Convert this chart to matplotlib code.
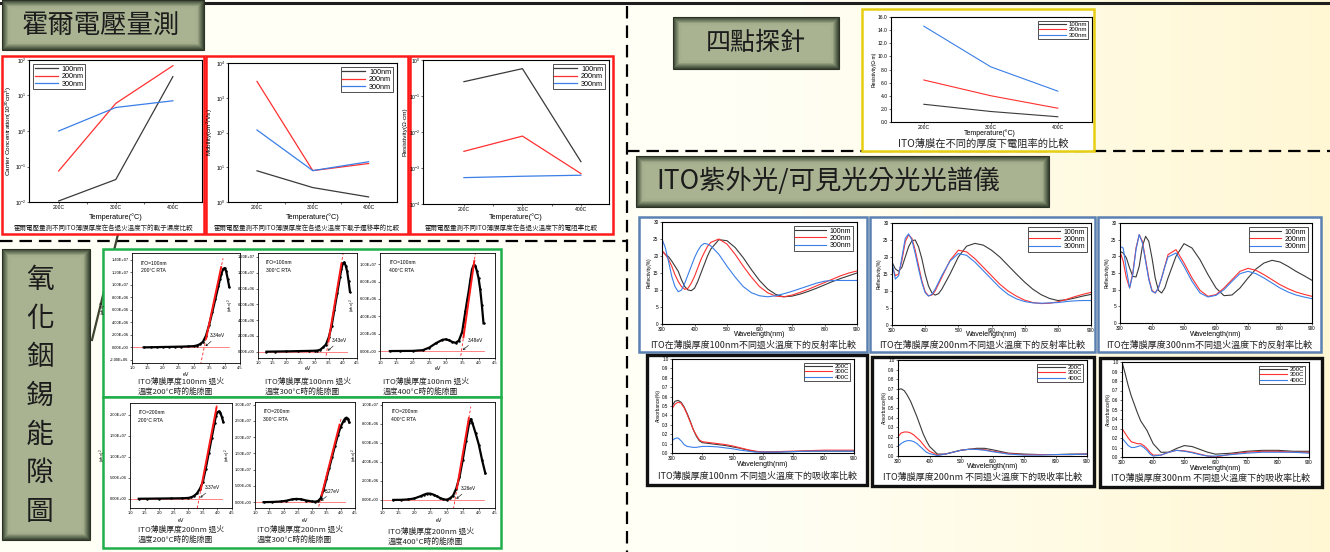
import numpy as np
import matplotlib
matplotlib.use("Agg")
import matplotlib.pyplot as plt
from matplotlib.colors import LinearSegmentedColormap
from matplotlib.patches import Rectangle
from matplotlib.ticker import FuncFormatter, NullLocator

plt.rcParams['font.family'] = ['Liberation Sans', 'Noto Sans CJK TC', 'DejaVu Sans']
plt.rcParams['mathtext.default'] = 'regular'
plt.rcParams['lines.scale_dashes'] = False

W, H = 1330, 552
CJK = ['Noto Sans CJK TC', 'DejaVu Sans']

temps = ['200C', '300C', '400C']
thick = ['100nm', '200nm', '300nm']
anneal = ['200C', '300C', '400C']

# Hall measurement, rows = 100nm / 200nm / 300nm
carrier = [[0.0107, 0.043, 34], [0.075, 6.0, 69], [1.0, 4.6, 7.1]]
mobility = [[7.9, 2.6, 1.4], [2950, 8.0, 12.8], [118, 8.0, 14.4]]
resist_hall = [[0.25, 0.575, 0.0015], [0.0029, 0.0077, 0.0007], [0.00054, 0.00059, 0.00063]]

# four point probe
resist_4p = [[2.7, 1.6, 0.8], [6.4, 4.0, 2.1], [14.6, 8.4, 4.7]]

# reflectance (%)
wl = [300, 310, 320, 330, 340, 350, 360, 370, 380, 390, 400, 410, 420, 430, 440, 450,
      475, 500, 525, 550, 575, 600, 625, 650, 675, 700, 725, 750, 775, 800, 825, 850, 875, 900]
refl_100 = [
    [21.5, 20.5, 19.8, 18.5, 17, 15.5, 13, 11, 10, 9.8, 10.5, 12.5, 15, 17.5, 20, 22,
     24.8, 24.5, 22.5, 19.5, 16, 12.8, 10.3, 8.7, 8, 8.2, 8.8, 9.6, 10.5, 11.5, 12.5, 13.4, 14.2, 15],
    [21.5, 20.5, 19, 17, 14.5, 12.5, 11, 10.2, 10.5, 12, 14, 16.5, 19, 21, 22.8, 24,
     25, 23.5, 20.5, 17, 13.8, 11, 9.2, 8.2, 8, 8.5, 9.3, 10.2, 11.2, 12.2, 13.2, 14.2, 15, 15.6],
    [25, 22.5, 18.5, 14, 11, 9.5, 10, 12, 14.5, 17, 19.5, 21.5, 23, 23.7, 23.5, 23,
     20.5, 17, 13.8, 11, 9.2, 8.3, 8, 8.3, 8.9, 9.6, 10.4, 11.2, 12, 12.6, 12.8, 12.8, 12.8, 12.8],
]
refl_200 = [
    [18.5, 16.5, 15.8, 17, 20, 23, 24.8, 25, 23, 19.5, 15, 11.5, 9.5, 8.8, 9.2, 10.5,
     15, 20, 23.2, 24, 23.5, 22, 20, 17.5, 15, 12.6, 10.5, 8.9, 7.8, 7.2, 7.4, 7.9, 8.5, 9],
    [17.5, 14.5, 15, 19, 24.5, 26.5, 25.5, 22, 17.5, 13, 9.8, 8.6, 8.8, 10, 12, 14,
     19, 22, 21.5, 19.5, 17, 14.5, 12, 10, 8.5, 7.3, 6.6, 6.3, 6.4, 6.8, 7.5, 8.3, 9, 9.6],
    [18.5, 13.5, 14.5, 20, 25.5, 26.8, 25, 21, 16.5, 12.5, 9.5, 8.5, 9, 10.5, 12.5, 14.5,
     18.8, 21, 20.5, 18.5, 16, 13.5, 11, 9, 7.7, 6.9, 6.5, 6.4, 6.5, 6.6, 6.9, 7.1, 7.2, 7.2],
]
refl_300 = [
    [21.5, 21, 19.5, 16.5, 14, 13.8, 17, 23, 26, 24.5, 19.5, 13.5, 9.8, 9, 10.5, 13.5,
     20, 23.8, 22.5, 19, 14.5, 10.5, 8.2, 8.4, 10.5, 13.5, 16.2, 18, 18.8, 18.3, 17, 15.5, 14.2, 12.8],
    [21.5, 18.5, 13.5, 10.5, 15, 22.5, 26.5, 24.5, 19, 13.5, 9.8, 9, 10.5, 13.5, 17, 20.5,
     22, 18, 13.5, 9.8, 8, 8.5, 10.5, 13, 15.5, 16.4, 15.8, 14.5, 13, 11.5, 10.3, 9.3, 8.6, 8],
    [23, 22.5, 16, 10.5, 14.5, 22, 26.5, 24, 18.5, 13, 9.5, 9, 10.5, 13.5, 16.8, 19.8,
     21, 17, 12.5, 9, 7.8, 8.3, 10, 12.5, 14.8, 15.5, 14.8, 13.5, 12, 10.5, 9.3, 8.4, 7.8, 7.3],
]

# absorbance
wl_abs = [300, 310, 320, 330, 340, 350, 360, 370, 380, 390, 400, 425, 450, 475, 500,
          525, 550, 575, 600, 650, 700, 750, 800, 850, 900]
abs_100 = [
    [0.50, 0.55, 0.56, 0.54, 0.49, 0.42, 0.34, 0.25, 0.18, 0.13, 0.11, 0.10, 0.09, 0.08, 0.065,
     0.05, 0.03, 0.015, 0.01, 0.01, 0.015, 0.02, 0.02, 0.02, 0.02],
    [0.47, 0.52, 0.54, 0.53, 0.48, 0.41, 0.33, 0.25, 0.19, 0.14, 0.12, 0.11, 0.10, 0.09, 0.075,
     0.055, 0.035, 0.02, 0.01, 0.015, 0.02, 0.025, 0.03, 0.03, 0.03],
    [0.13, 0.155, 0.16, 0.13, 0.09, 0.07, 0.065, 0.06, 0.06, 0.065, 0.07, 0.07, 0.065, 0.055, 0.045,
     0.03, 0.02, 0.01, 0.01, 0.01, 0.015, 0.02, 0.02, 0.02, 0.02],
]
abs_200 = [
    [0.69, 0.70, 0.68, 0.63, 0.57, 0.49, 0.41, 0.32, 0.23, 0.16, 0.10, 0.02, 0.02, 0.04, 0.06,
     0.07, 0.08, 0.08, 0.065, 0.03, 0.02, 0.015, 0.015, 0.02, 0.02],
    [0.20, 0.24, 0.25, 0.25, 0.24, 0.22, 0.19, 0.16, 0.12, 0.08, 0.05, 0.01, 0.02, 0.04, 0.06,
     0.07, 0.07, 0.065, 0.05, 0.025, 0.015, 0.015, 0.015, 0.015, 0.02],
    [0.10, 0.13, 0.15, 0.16, 0.16, 0.15, 0.13, 0.10, 0.07, 0.04, 0.025, 0.005, 0.02, 0.04, 0.06,
     0.07, 0.068, 0.06, 0.045, 0.02, 0.01, 0.01, 0.015, 0.015, 0.02],
]
abs_300 = [
    [1.0, 0.88, 0.75, 0.64, 0.55, 0.46, 0.38, 0.33, 0.28, 0.21, 0.14, 0.05, 0.05, 0.09, 0.12,
     0.11, 0.08, 0.05, 0.03, 0.04, 0.06, 0.07, 0.07, 0.06, 0.06],
    [0.30, 0.25, 0.20, 0.16, 0.15, 0.14, 0.14, 0.12, 0.09, 0.05, 0.02, 0.02, 0.05, 0.07, 0.065,
     0.05, 0.03, 0.01, 0.0, 0.03, 0.05, 0.06, 0.06, 0.05, 0.05],
    [0.20, 0.16, 0.12, 0.10, 0.10, 0.11, 0.12, 0.10, 0.07, 0.03, 0.01, 0.02, 0.05, 0.07, 0.06,
     0.045, 0.025, 0.01, 0.01, 0.025, 0.04, 0.05, 0.05, 0.05, 0.04],
]

# band gap plots, (alpha h nu)^2 in units of 1e6
gap_ev = [
    [1.38, 1.6, 1.8, 2.0, 2.2, 2.4, 2.6, 2.8, 3.0, 3.1, 3.2, 3.3, 3.4, 3.5, 3.6, 3.7, 3.8, 3.85,
     3.9, 3.95, 4.0, 4.05, 4.1, 4.15],
    [1.3, 1.6, 2.0, 2.4, 2.8, 3.0, 3.1, 3.2, 3.3, 3.4, 3.5, 3.6, 3.7, 3.8, 3.9, 3.95, 4.0, 4.05,
     4.1, 4.15, 4.2, 4.25],
    [1.3, 1.6, 2.0, 2.3, 2.5, 2.7, 2.9, 3.0, 3.1, 3.2, 3.3, 3.4, 3.5, 3.55, 3.6, 3.65, 3.7, 3.75,
     3.8, 3.85, 3.9, 3.95, 4.0, 4.05, 4.1, 4.15],
    [1.3, 1.6, 2.0, 2.4, 2.8, 3.0, 3.1, 3.2, 3.3, 3.4, 3.5, 3.6, 3.7, 3.8, 3.9, 3.95, 4.0, 4.05,
     4.1, 4.15, 4.2],
    [1.3, 1.6, 1.9, 2.1, 2.3, 2.45, 2.6, 2.8, 3.0, 3.1, 3.2, 3.3, 3.4, 3.5, 3.6, 3.7, 3.8, 3.9,
     4.0, 4.1, 4.15, 4.2, 4.25, 4.3],
    [1.35, 1.6, 1.8, 2.0, 2.2, 2.3, 2.4, 2.5, 2.6, 2.7, 2.8, 2.9, 3.0, 3.1, 3.2, 3.3, 3.4, 3.5,
     3.6, 3.7, 3.75, 3.8, 3.9, 4.0, 4.1, 4.2],
]
gap_val = [
    [0.0, 0.02, 0.04, 0.06, 0.08, 0.1, 0.12, 0.15, 0.2, 0.3, 0.5, 0.9, 1.9, 3.6, 5.6, 7.7, 9.8,
     10.9, 11.8, 12.5, 12.7, 12.2, 11.0, 9.7],
    [0.0, 0.02, 0.04, 0.07, 0.1, 0.12, 0.15, 0.25, 0.55, 0.9, 1.8, 3.2, 5.3, 7.4, 9.5, 10.5,
     11.2, 11.3, 10.9, 10.2, 9.0, 7.6],
    [0.0, 0.01, 0.02, 0.1, 0.4, 0.9, 1.3, 1.35, 1.25, 1.05, 0.95, 1.2, 2.2, 3.4, 4.6, 5.8, 6.9,
     8.2, 9.4, 9.9, 9.85, 9.2, 8.4, 7.1, 5.3, 3.2],
    [0.0, 0.02, 0.05, 0.08, 0.12, 0.2, 0.35, 0.7, 1.3, 2.4, 4.0, 7.2, 10.8, 14.4, 18.0, 19.8,
     20.6, 20.8, 20.5, 19.5, 18.3],
    [0.0, 0.05, 0.2, 0.45, 0.85, 1.0, 0.9, 0.5, 0.2, 0.15, 0.3, 1.2, 3.8, 7.2, 10.6, 14.0, 17.4,
     20.6, 23.2, 25.0, 25.7, 26.0, 25.7, 24.5],
    [0.0, 0.01, 0.05, 0.15, 0.4, 0.55, 0.67, 0.66, 0.55, 0.38, 0.2, 0.07, 0.02, 0.15, 0.45, 1.2,
     2.4, 4.2, 6.2, 8.1, 8.5, 8.1, 7.0, 5.8, 4.2, 2.8],
]
gap_eg = [3.34, 3.43, 3.48, 3.37, 3.27, 3.26]
gap_top = [(3.91, 13.3), (3.97, 11.6), (3.89, 10.9), (3.99, 22.5), (3.98, 24.5), (3.71, 9.0)]
gap_film = ['100nm', '100nm', '100nm', '200nm', '200nm', '200nm']
gap_temp = ['200', '300', '400', '200', '300', '400']

# ---------------- layout helpers ----------------
C3 = ['#3a3a3a', '#ff3030', '#3a7ee8']


def rect(x0, y0, x1, y1):
    return [x0 / W, 1 - y1 / H, (x1 - x0) / W, (y1 - y0) / H]


fig = plt.figure(figsize=(13.3, 5.52), dpi=100)
bg = fig.add_axes([0, 0, 1, 1], zorder=-5)
bg.axis('off')

# cream background, more yellow to the right
bg_cmap = LinearSegmentedColormap.from_list('bgc', ['#fffff6', '#fff7d4'])
grad = np.clip((np.linspace(0, 1, 400) - 0.55) / 0.45, 0, 1)[None, :]
bg.imshow(grad, extent=(0, W, H, 0), cmap=bg_cmap, aspect='auto', zorder=0)

olive = LinearSegmentedColormap.from_list('olive', ['#3b4633', '#6f7b60', '#a4ae8d', '#a9b392'])


def title_box(x0, y0, x1, y1):
    w, h = int(x1 - x0), int(y1 - y0)
    yy, xx = np.mgrid[0:h, 0:w]
    d = np.minimum(np.minimum(xx, w - 1 - xx), np.minimum(yy, h - 1 - yy)).astype(float)
    bg.imshow(np.clip(d / 9.0, 0, 1), extent=(x0, x1, y1, y0), cmap=olive, vmin=0, vmax=1,
              aspect='auto', interpolation='bilinear', zorder=3)
    bg.add_patch(Rectangle((x0, y0), x1 - x0, y1 - y0, fill=False, ec='#2c3326', lw=0.8, zorder=4))


def frame(x0, y0, x1, y1, color, lw):
    bg.add_patch(Rectangle((x0, y0), x1 - x0, y1 - y0, fc='white', ec=color, lw=lw, zorder=2))


# lines that split the poster
bg.plot([0, W], [3, 3], color='#1e1e1e', lw=2.2, zorder=1)
bg.plot([627, 627], [6, H], color='k', lw=1.6, dashes=(9, 5), zorder=1)
bg.plot([0, 627], [241, 241], color='k', lw=1.6, dashes=(9, 5), zorder=1)
bg.plot([627, W], [151, 151], color='k', lw=1.6, dashes=(9, 5), zorder=1)
bg.plot([121, 92], [222, 340], color='#3d4530', lw=1.6, zorder=1)

# section titles
title_box(2, 0, 204, 50)
bg.text(101, 25, '霍爾電壓量測', fontsize=19, ha='center', va='center', family=CJK, color='#1c1c1c', zorder=5)
title_box(673, 17, 839, 69)
bg.text(756, 43, '四點探針', fontsize=18, ha='center', va='center', family=CJK, color='#1c1c1c', zorder=5)
title_box(636, 156, 1049, 207)
bg.text(656, 181, 'ITO紫外光/可見光分光光譜儀', fontsize=19, ha='left', va='center', family=CJK,
        color='#1c1c1c', zorder=5)
title_box(2, 249, 90, 540)
bg.text(40, 396, '\n'.join('氧化銦錫能隙圖'), fontsize=20, linespacing=1.37, ha='center', va='center',
        family=CJK, color='#1c1c1c', zorder=5)


def finish_legend(ax, loc, fs, hl=3.2):
    leg = ax.legend(loc=loc, fontsize=fs, frameon=True, fancybox=False, edgecolor='k', handlelength=hl,
                    borderpad=0.2, labelspacing=0.05, handletextpad=0.5, borderaxespad=0.6)
    leg.get_frame().set_linewidth(0.6)


def tiny_ticks(ax, size):
    ax.tick_params(labelsize=size, direction='out', length=1.5, width=0.4, pad=1)
    for sp in ax.spines.values():
        sp.set_linewidth(0.8)


# ---------------- Hall panels ----------------
hall_frames = [(2, 56, 204, 234), (206, 56, 408, 234), (410, 56, 613, 234)]
hall_boxes = [(29, 60, 202, 202), (228, 63, 397, 202), (423, 60, 609, 204)]
hall_xlim = [(0.48, 3.51), (0.48, 3.51), (0.3, 3.48)]
hall_ylim = [(1e-2, 1e2), (1e0, 1e4), (1e-4, 1e0)]
hall_ylabel = ['Carrier Concentration(10$^{20}$cm$^{3}$)', 'Mobility(cm$^{2}$/Vs)', 'Resistivity(Ω·cm)']
hall_legloc = ['upper left', 'upper right', 'upper right']
hall_caption = ['霍爾電壓量測不同ITO薄膜厚度在各退火溫度下的載子濃度比較',
                '霍爾電壓量測不同ITO薄膜厚度在各退火溫度下載子遷移率的比較',
                '霍爾電壓量測不同ITO薄膜厚度在各退火溫度下的電阻率比較']
x_pos = [1, 2, 3]
decade = FuncFormatter(lambda v, p: '$10^{%d}$' % int(round(np.log10(v))))

for i, data in enumerate([carrier, mobility, resist_hall]):
    frame(*hall_frames[i], '#ff1a1a', 1.8)
    ax = fig.add_axes(rect(*hall_boxes[i]))
    for vals, name, col in zip(data, thick, C3):
        ax.plot(x_pos, vals, color=col, lw=0.9, label=name)
    ax.set_yscale('log')
    ax.set_ylim(*hall_ylim[i])
    ax.set_xlim(*hall_xlim[i])
    ax.yaxis.set_major_formatter(decade)
    ax.yaxis.set_minor_locator(NullLocator())
    ax.set_xticks(x_pos, temps)
    ax.set_xticks([1.5, 2.5], minor=True)
    tiny_ticks(ax, 3.6)
    ax.tick_params(axis='y', pad=0.5)
    ax.tick_params(which='minor', length=1.5, width=0.4)
    ax.set_ylabel(hall_ylabel[i], fontsize=4.6, labelpad=0.5)
    finish_legend(ax, hall_legloc[i], 5.2)
    cx = (hall_boxes[i][0] + hall_boxes[i][2]) / 2
    bg.text(cx, 217, 'Temperature(°C)', fontsize=5.2, ha='center', va='center')
    bg.text((hall_frames[i][0] + hall_frames[i][2]) / 2, 228, hall_caption[i], fontsize=4.7,
            ha='center', va='center', family=CJK, color='#222222')

# ---------------- four point probe ----------------
frame(862, 9, 1094, 151, '#e6cf12', 1.8)
ax = fig.add_axes(rect(891, 17, 1092, 122))
for vals, name, col in zip(resist_4p, thick, C3):
    ax.plot(x_pos, vals, color=col, lw=0.8, label=name)
ax.set_xlim(0.51, 3.51)
ax.set_ylim(0, 16)
ax.set_yticks(np.arange(0, 16.1, 2))
ax.yaxis.set_major_formatter(FuncFormatter(lambda v, p: f'{v:.1f}'))
ax.set_xticks(x_pos, temps)
tiny_ticks(ax, 3.6)
ax.set_ylabel('Resistivity(Ω·m)', fontsize=3.6, labelpad=1)
finish_legend(ax, 'upper right', 4.3, hl=4.5)
bg.text(990, 133, 'Temperature(°C)', fontsize=5, ha='center', va='center')
bg.text(983, 144, 'ITO薄膜在不同的厚度下電阻率的比較', fontsize=7.4, ha='center', va='center',
        family=CJK, color='#222222')

# ---------------- reflectance ----------------
refl_frames = [(639, 217, 867, 352), (870, 217, 1095, 352), (1098, 217, 1321, 352)]
refl_boxes = [(662, 222, 857, 324), (892, 223, 1091, 325), (1120, 223, 1312, 323)]
for i, data in enumerate([refl_100, refl_200, refl_300]):
    frame(*refl_frames[i], '#5b80b2', 1.8)
    ax = fig.add_axes(rect(*refl_boxes[i]))
    for vals, name, col in zip(data, thick, C3):
        ax.plot(wl, vals, color=col, lw=0.8, label=name)
    ax.set_xlim(300, 900)
    ax.set_xticks(range(300, 901, 100))
    ax.set_ylim(0, 30)
    ax.set_yticks(range(0, 31, 5))
    tiny_ticks(ax, 3.4)
    ax.set_ylabel('Reflectivity(%)', fontsize=3.4, labelpad=1)
    finish_legend(ax, 'upper right', 5, hl=4.5)
    cx = (refl_boxes[i][0] + refl_boxes[i][2]) / 2
    bg.text(cx, 335, 'Wavelength(nm)', fontsize=5, ha='center', va='center')
    bg.text((refl_frames[i][0] + refl_frames[i][2]) / 2, 345,
            f'ITO在薄膜厚度{thick[i]}不同退火溫度下的反射率比較', fontsize=6.5, ha='center',
            va='center', family=CJK, color='#222222')

# ---------------- absorbance ----------------
abs_frames = [(647, 355, 867, 485), (872, 357, 1094, 486), (1100, 358, 1322, 487)]
abs_boxes = [(672, 359, 854, 453), (898, 360, 1087, 456), (1122, 362, 1309, 457)]
for i, data in enumerate([abs_100, abs_200, abs_300]):
    frame(*abs_frames[i], '#111111', 2.4)
    ax = fig.add_axes(rect(*abs_boxes[i]))
    for vals, name, col in zip(data, anneal, C3):
        ax.plot(wl_abs, vals, color=col, lw=0.8, label=name)
    ax.set_xlim(300, 900)
    ax.set_xticks(range(300, 901, 100))
    ax.set_ylim(0, 1.0)
    ax.set_yticks(np.arange(0, 1.01, 0.1))
    ax.yaxis.set_major_formatter(FuncFormatter(lambda v, p: f'{v:.1f}'))
    tiny_ticks(ax, 3.3)
    ax.set_ylabel('Absorbance(%)', fontsize=3.4, labelpad=1)
    finish_legend(ax, 'upper right', 4.3, hl=4.5)
    cx = (abs_boxes[i][0] + abs_boxes[i][2]) / 2
    bg.text(cx, abs_boxes[i][3] + 11, 'Wavelength(nm)', fontsize=5, ha='center', va='center')
    bg.text((abs_frames[i][0] + abs_frames[i][2]) / 2, abs_frames[i][3] - 9,
            f'ITO薄膜厚度{thick[i]} 不同退火溫度下的吸收率比較', fontsize=6.5, ha='center', va='center',
            family=CJK, color='#222222')

# ---------------- band gap ----------------
frame(103, 249, 501, 397, '#1fae4a', 1.8)
frame(103, 397, 501, 548, '#1fae4a', 1.8)
gap_boxes = [(132, 253, 240, 363), (258, 253, 357, 358), (380, 253, 495, 358),
             (130, 403, 232, 508), (255, 402, 355, 508), (382, 402, 495, 508)]
gap_ylim = [(-2.5, 15.1), (-0.8, 12.5), (-0.8, 11.3), (-2.2, 22.8), (-1.8, 30.8), (-0.85, 10.3)]
gap_yticks = [np.arange(-2, 15, 2), np.arange(0, 13, 2), np.arange(0, 11, 2),
              np.arange(0, 21, 5), np.arange(0, 31, 5), np.arange(0, 11, 2)]
gap_caption_xy = [(138, 382), (265, 382), (383, 382), (138, 530), (257, 530), (388, 532)]
sci = FuncFormatter(lambda v, p: f'{v * 1e6:.2E}')

for i in range(6):
    ax = fig.add_axes(rect(*gap_boxes[i]))
    ev, val, eg = gap_ev[i], gap_val[i], gap_eg[i]
    tx, ty = gap_top[i]
    slope = ty / (tx - eg)
    ax.plot([1.0, 4.15], [0, 0], color='#ff7070', lw=0.6)
    xd = np.array([eg - 0.25, tx + 0.04])
    ax.plot(xd, slope * (xd - eg), color='#ff2020', lw=0.6, dashes=(2, 1.5))
    ax.plot(ev, val, color='black', lw=1.6, marker='o', ms=1.8, mew=0)
    xs = np.array([eg + 0.06, tx - 0.02])
    ax.plot(xs, slope * (xs - eg), color='#ff1a1a', lw=1.4)
    ax.set_xlim(1.0, 4.5)
    ax.set_xticks(np.arange(1.0, 4.51, 0.5))
    ax.xaxis.set_major_formatter(FuncFormatter(lambda v, p: f'{v:.1f}'))
    ax.set_ylim(*gap_ylim[i])
    ax.set_yticks(gap_yticks[i])
    ax.yaxis.set_major_formatter(sci)
    tiny_ticks(ax, 2.9)
    for sp in ax.spines.values():
        sp.set_linewidth(0.6)
    ax.set_ylabel('(αhν)$^{2}$', fontsize=3.2, labelpad=1)
    span = gap_ylim[i][1] - gap_ylim[i][0]
    ax.annotate(f'{eg:.2f}eV', xy=(eg + 0.04, span * 0.01), xytext=(eg + 0.18, span * 0.09),
                fontsize=3.4, arrowprops=dict(arrowstyle='->', lw=0.4, shrinkA=0, shrinkB=0))
    ax.text(0.08, 0.93, f'ITO={gap_film[i]}\n{gap_temp[i]}°C RTA', transform=ax.transAxes,
            fontsize=3.6, va='top', linespacing=1.6)
    cx = (gap_boxes[i][0] + gap_boxes[i][2]) / 2
    bg.text(cx, gap_boxes[i][3] + 11 if i < 3 else gap_boxes[i][3] + 13, 'eV', fontsize=3.8,
            ha='center', va='center')
    x0, y0 = gap_caption_xy[i]
    bg.text(x0, y0, f'ITO薄膜厚度{gap_film[i]} 退火', fontsize=5.6, ha='left', va='center',
            family=CJK, color='#222222')
    bg.text(x0, y0 + 10, f'溫度{gap_temp[i]}°C時的能隙圖', fontsize=5.6, ha='left', va='center',
            family=CJK, color='#222222')

bg.set_xlim(0, W)
bg.set_ylim(H, 0)

fig.savefig('out.png', dpi=100)
